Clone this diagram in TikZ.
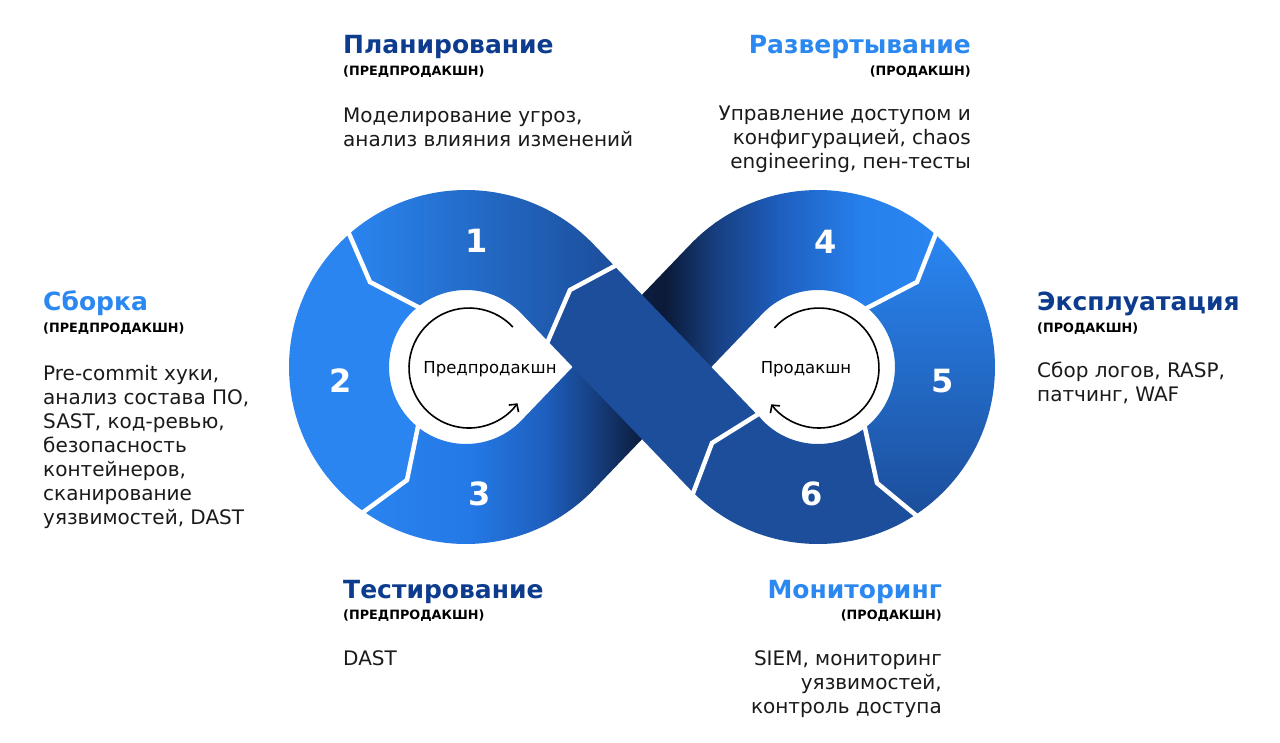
\documentclass[tikz,border=0pt]{standalone}
\usepackage{fontspec}
\setmainfont{DejaVu Sans}
\usetikzlibrary{calc,arrows.meta}
\definecolor{navy}{HTML}{0D3B8E}
\definecolor{sky}{HTML}{2B88F0}
\definecolor{bright}{HTML}{2A85F0}
\definecolor{midblue}{HTML}{1C4E9B}
\definecolor{txtblack}{HTML}{1A1A1A}
\definecolor{c0}{HTML}{2A85F0}
\definecolor{c1}{HTML}{2479E6}
\definecolor{c2}{HTML}{1E5FBE}
\definecolor{c3}{HTML}{163E7E}
\definecolor{c4}{HTML}{0C1D3E}
\definecolor{c5}{HTML}{0B1A38}
\definecolor{c6}{HTML}{173F80}
\definecolor{c7}{HTML}{1E5FBF}
\definecolor{c8}{HTML}{2780EC}
\definecolor{c9}{HTML}{2A86F2}
\tikzset{
  ttl/.style={font=\fontsize{25}{29}\selectfont\bfseries, inner sep=0pt},
  subtxt/.style={font=\fontsize{12.8}{15}\selectfont\bfseries, inner sep=0pt, text=black},
  bodytxt/.style={font=\fontsize{20}{24}\selectfont, inner sep=0pt, text=txtblack},
  numtxt/.style={font=\fontsize{32}{36}\selectfont\bfseries, text=white, inner sep=0pt},
  inlbl/.style={font=\fontsize{16.5}{20}\selectfont, inner sep=0pt, text=black},
  arrowline/.style={line width=1.6pt, -{Straight Barb[length=5.5pt,width=12pt]}},
  sepline/.style={white, line width=4.5pt, line cap=rect, line join=miter}
}
\begin{document}
\begin{tikzpicture}[x=1pt,y=-1pt]
\useasboundingbox (0,0) rectangle (1280,742);
\fill[white] (0,0) rectangle (1280,742);

% centres of the two loops
\coordinate (L) at (466,367);
\coordinate (R) at (818,367);
% tangent points of the crossing strips
\coordinate (LoA) at ($(L)+(-43.8:177)$);
\coordinate (LiA) at ($(L)+(-43.8:77)$);
\coordinate (LoB) at ($(L)+(43.8:177)$);
\coordinate (LiB) at ($(L)+(43.8:77)$);
\coordinate (RoA) at ($(R)+(136.2:177)$);
\coordinate (RiA) at ($(R)+(136.2:77)$);
\coordinate (RoB) at ($(R)+(223.8:177)$);
\coordinate (RiB) at ($(R)+(223.8:77)$);
% separators
\coordinate (s12o) at ($(L)+(228.7:177)$);
\coordinate (s12b) at (370,282);
\coordinate (s12i) at ($(L)+(231.3:77)$);
\coordinate (s23i) at ($(L)+(128.7:77)$);
\coordinate (s23b) at (407,480);
\coordinate (s23o) at ($(L)+(125.2:177)$);
\coordinate (s1fo) at ($(LoA)!0.123!(RiA)$);
\coordinate (s1fb) at (570,290);
\coordinate (s1fi) at ($(LiA)!0.156!(RoA)$);
\coordinate (s45o) at ($(R)+(311.6:177)$);
\coordinate (s45b) at (917,282);
\coordinate (s45i) at ($(R)+(309.8:77)$);
\coordinate (s56i) at ($(R)+(52.4:77)$);
\coordinate (s56b) at (877,483);
\coordinate (s56o) at ($(R)+(56.6:177)$);
\coordinate (s6fi) at ($(R)+(141.8:77)$);
\coordinate (s6fb) at (712,443);
\coordinate (s6fo) at ($(R)+(134.8:177)$);

% segment 3 + back strip + segment 4
\begin{scope}
\clip (s23o) arc[start angle=125.2, end angle=43.8, radius=177] -- (RiB)
  arc[start angle=223.8, end angle=309.8, radius=77] -- (s45b) -- (s45o)
  arc[start angle=311.6, end angle=223.8, radius=177] -- (LiB)
  arc[start angle=43.8, end angle=128.7, radius=77] -- (s23b) -- cycle;
\foreach \xa/\xb/\ca/\cb in {350/470/c0/c1, 470/545/c1/c2, 545/595/c2/c3,
   595/640/c3/c4, 640/665/c4/c5, 665/715/c5/c6, 715/780/c6/c7,
   780/860/c7/c8, 860/945/c8/c9}
  \shade[left color=\ca, right color=\cb] (\xa,180) rectangle ({\xb+0.8},560);
\end{scope}

% segment 1
\shade[left color=c0, right color=midblue]
  (s12o) arc[start angle=228.7, end angle=316.2, radius=177] -- (s1fo) -- (s1fb)
  -- (s1fi) -- (LiA) arc[start angle=316.2, end angle=231.3, radius=77] -- (s12b) -- cycle;
% segment 2
\fill[bright]
  (s12o) arc[start angle=228.7, end angle=125.2, radius=177] -- (s23b) -- (s23i)
  arc[start angle=128.7, end angle=231.3, radius=77] -- (s12b) -- cycle;
% segment 5
\shade[top color=c9, bottom color=midblue]
  (s45o) arc[start angle=311.6, end angle=416.6, radius=177] -- (s56b) -- (s56i)
  arc[start angle=412.4, end angle=309.8, radius=77] -- (s45b) -- cycle;
% segment 6
\fill[midblue]
  (s56o) arc[start angle=56.6, end angle=134.8, radius=177] -- (s6fb) -- (s6fi)
  arc[start angle=141.8, end angle=52.4, radius=77] -- (s56b) -- cycle;
% front strip
\fill[midblue]
  (s1fo) -- (RiA) arc[start angle=136.2, end angle=141.8, radius=77] -- (s6fb)
  -- (s6fo) arc[start angle=134.8, end angle=136.2, radius=177] -- (s1fi) -- (s1fb) -- cycle;

% white separators
\draw[sepline] (s12o) -- (s12b) -- (s12i);
\draw[sepline] (s23i) -- (s23b) -- (s23o);
\draw[sepline] (s1fo) -- (s1fb) -- (s1fi);
\draw[sepline] (s45o) -- (s45b) -- (s45i);
\draw[sepline] (s56i) -- (s56b) -- (s56o);
\draw[sepline] (s6fi) -- (s6fb) -- (s6fo);

% numbers
\node[numtxt] (n1) at (477,241) {1};
\node[numtxt] (n2) at (341,381) {2};
\node[numtxt] (n3) at (480,494) {3};
\node[numtxt] (n4) at (826,242) {4};
\node[numtxt] (n5) at (943,381) {5};
\node[numtxt] (n6) at (812,494) {6};

% inner loops
\coordinate (CL) at (469,368);
\coordinate (CR) at (819,368);
\draw[arrowline] ($(CL)+(-43:60)$) arc[start angle=-43, end angle=-324, radius=60];
\draw[arrowline] ($(CR)+(-138:60)$) arc[start angle=-138, end angle=142.8, radius=60];
\node[inlbl, anchor=base] (pre) at (490,373) {Предпродакшн};
\node[inlbl, anchor=base] (prod) at (806,373) {Продакшн};

% Планирование
\node[ttl, text=navy, anchor=base west] (plan) at (343,53) {Планирование};
\node[subtxt, anchor=base west] (plans) at (343,75) {(ПРЕДПРОДАКШН)};
\foreach \t [count=\i] in {{Моделирование угроз,},{анализ влияния изменений}}
  \node[bodytxt, anchor=base west] (planb\i) at (343,{122+24.5*(\i-1)}) {\t};

% Развертывание
\node[ttl, text=sky, anchor=base east] (dep) at (971,53) {Развертывание};
\node[subtxt, anchor=base east] (deps) at (971,75) {(ПРОДАКШН)};
\foreach \t [count=\i] in {{Управление доступом и},{конфигурацией, chaos},{engineering, пен-тесты}}
  \node[bodytxt, anchor=base east] (depb\i) at (971,{120+24*(\i-1)}) {\t};

% Сборка
\node[ttl, text=sky, anchor=base west] (bld) at (43,310) {Сборка};
\node[subtxt, anchor=base west] (blds) at (43,332) {(ПРЕДПРОДАКШН)};
\foreach \t [count=\i] in {{Pre-commit хуки,},{анализ состава ПО,},{SAST, код-ревью,},{безопасность},{контейнеров,},{сканирование},{уязвимостей, DAST}}
  \node[bodytxt, anchor=base west] (bldb\i) at (43,{380+24*(\i-1)}) {\t};

% Эксплуатация
\node[ttl, text=navy, anchor=base west] (ops) at (1037,310) {Эксплуатация};
\node[subtxt, anchor=base west] (opss) at (1037,332) {(ПРОДАКШН)};
\foreach \t [count=\i] in {{Сбор логов, RASP,},{патчинг, WAF}}
  \node[bodytxt, anchor=base west] (opsb\i) at (1037,{377+24*(\i-1)}) {\t};

% Тестирование
\node[ttl, text=navy, anchor=base west] (tst) at (343,598) {Тестирование};
\node[subtxt, anchor=base west] (tsts) at (343,619) {(ПРЕДПРОДАКШН)};
\node[bodytxt, anchor=base west] (tstb1) at (343,665) {DAST};

% Мониторинг
\node[ttl, text=sky, anchor=base east] (mon) at (942,598) {Мониторинг};
\node[subtxt, anchor=base east] (mons) at (942,619) {(ПРОДАКШН)};
\foreach \t [count=\i] in {{SIEM, мониторинг},{уязвимостей,},{контроль доступа}}
  \node[bodytxt, anchor=base east] (monb\i) at (942,{665+24*(\i-1)}) {\t};
\end{tikzpicture}
\end{document}
